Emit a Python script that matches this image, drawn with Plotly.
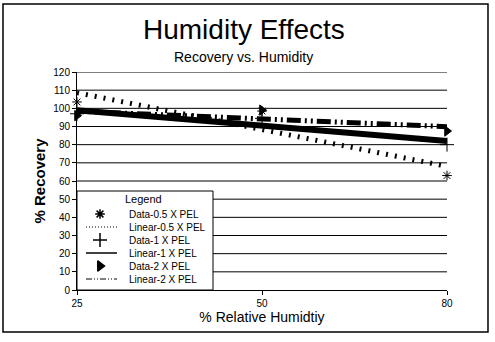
import numpy as np
import plotly.graph_objects as go

# Relative humidity levels (category axis) and measured recoveries
humidity = ["25", "50", "80"]
rec_half_pel = [103.5, 98.5, 63.0]
rec_one_pel = [97.0, 94.5, 80.0]
rec_two_pel = [96.0, 99.0, 87.5]

y_ticks = list(range(0, 121, 10))
Y_MAX = 120

FONT = "Arial, Liberation Sans, sans-serif"
pos = np.arange(len(humidity))

# Plot area size in pixels, and the legend box size inside it
PW, PH = 370, 218
LW, LH = 136, 99


def linear_fit(values):
    slope, intercept = np.polyfit(pos, values, 1)
    return list(slope * pos + intercept)


fig = go.Figure()

# Horizontal grid lines at every y tick, spanning the first to last category
grid_x, grid_y = [], []
for t in y_ticks[1:]:
    grid_x += [humidity[0], humidity[-1], None]
    grid_y += [t, t, None]
fig.add_trace(go.Scatter(x=grid_x, y=grid_y, mode="lines",
                         line=dict(color="black", width=1),
                         showlegend=False, hoverinfo="skip"))

series = [
    ("0.5 X PEL", rec_half_pel, dict(symbol="asterisk-open", size=8),
     dict(color="black", width=5, dash="2px,7px"),
     dict(color="black", width=1, dash="1px,2px")),
    ("1 X PEL", rec_one_pel, dict(symbol="cross-thin-open", size=10),
     dict(color="black", width=6),
     dict(color="black", width=1.5)),
    ("2 X PEL", rec_two_pel, dict(symbol="triangle-right", size=9),
     dict(color="black", width=5, dash="14px,4px,2px,4px,2px,4px"),
     dict(color="black", width=1, dash="6px,2px,1px,2px,1px,2px")),
]

for name, vals, mk, ln, _ in series:
    fig.add_trace(go.Scatter(
        x=humidity, y=vals, mode="markers", name="Data-" + name,
        marker=dict(color="black", line=dict(color="black", width=1), **mk),
        cliponaxis=False, showlegend=False,
    ))
    fig.add_trace(go.Scatter(
        x=humidity, y=linear_fit(vals), mode="lines", name="Linear-" + name,
        line=ln, showlegend=False,
    ))

# Boxed legend on an overlay axis measured in plot-area pixels
ROW_Y = [76, 63, 50, 37, 24, 11]
SYM_X, LINE_X0, LINE_X1, TEXT_X = 23, 9, 40, 50

fig.add_trace(go.Scatter(
    x=[0, LW, LW, 0, 0], y=[0, 0, LH, LH, 0], xaxis="x2", yaxis="y2",
    mode="lines", fill="toself", fillcolor="white",
    line=dict(color="black", width=1), cliponaxis=False,
    showlegend=False, hoverinfo="skip",
))

legend_labels = []
for i, (name, vals, mk, ln, ln_key) in enumerate(series):
    y_sym, y_line = ROW_Y[2 * i], ROW_Y[2 * i + 1]
    fig.add_trace(go.Scatter(
        x=[SYM_X], y=[y_sym], xaxis="x2", yaxis="y2", mode="markers",
        marker=dict(color="black", line=dict(color="black", width=1.5), **mk),
        cliponaxis=False, showlegend=False, hoverinfo="skip",
    ))
    fig.add_trace(go.Scatter(
        x=[LINE_X0, LINE_X1], y=[y_line, y_line], xaxis="x2", yaxis="y2",
        mode="lines", line=ln_key, cliponaxis=False, showlegend=False,
        hoverinfo="skip",
    ))
    legend_labels += [("Data-" + name, y_sym), ("Linear-" + name, y_line)]

annotations = [
    dict(text="Humidity Effects", xref="paper", yref="paper",
         x=0.45, y=1.195, xanchor="center", yanchor="middle",
         showarrow=False, font=dict(size=28, family=FONT)),
    dict(text="Recovery vs. Humidity", xref="paper", yref="paper",
         x=0.45, y=1.07, xanchor="center", yanchor="middle",
         showarrow=False, font=dict(size=14, family=FONT)),
    dict(text="Legend", xref="x2", yref="y2", x=66, y=91,
         xanchor="center", yanchor="middle", showarrow=False,
         font=dict(size=11, family=FONT)),
]
for label, y in legend_labels:
    annotations.append(dict(text=label, xref="x2", yref="y2", x=TEXT_X, y=y,
                            xanchor="left", yanchor="middle", showarrow=False,
                            font=dict(size=10, family=FONT)))

# Outer frame around the whole chart
fig.add_shape(type="rect", xref="paper", yref="paper",
              x0=-0.2, x1=1.1108, y0=-0.1927, y1=1.3119,
              line=dict(color="black", width=1.5), layer="below")

fig.update_layout(
    width=495, height=342,
    margin=dict(l=77, r=48, t=72, b=52),
    paper_bgcolor="white", plot_bgcolor="white",
    font=dict(family=FONT, color="black", size=10),
    showlegend=False,
    annotations=annotations,
    xaxis=dict(
        type="category", categoryorder="array", categoryarray=humidity,
        range=[0, len(humidity) - 1],
        showline=True, linecolor="black", linewidth=1,
        ticks="outside", ticklen=4, tickcolor="black",
        showgrid=False, zeroline=False,
        tickfont=dict(size=10),
        title=dict(text="% Relative Humidtiy", font=dict(size=14), standoff=4),
    ),
    yaxis=dict(
        range=[0, Y_MAX], tickvals=y_ticks,
        showline=True, linecolor="black", linewidth=1,
        ticks="outside", ticklen=4, tickcolor="black",
        showgrid=False, zeroline=False,
        tickfont=dict(size=10),
        title=dict(text="<b>% Recovery</b>", font=dict(size=15), standoff=4),
    ),
    xaxis2=dict(overlaying="x", range=[0, PW], visible=False,
                showgrid=False, zeroline=False),
    yaxis2=dict(overlaying="y", anchor="x2", range=[0, PH], visible=False,
                showgrid=False, zeroline=False),
)

fig.write_html("out.html")
